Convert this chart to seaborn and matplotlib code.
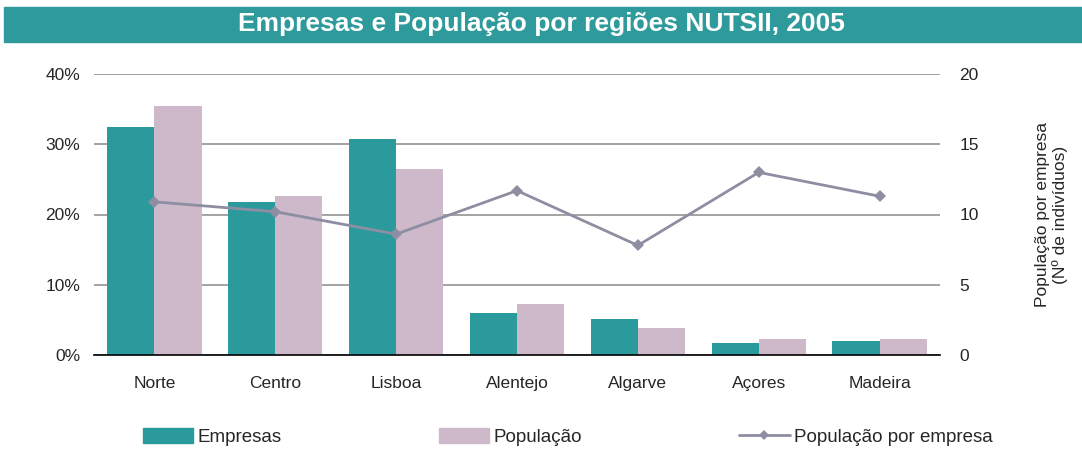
import pandas as pd
import numpy as np
import seaborn as sns
import matplotlib.pyplot as plt
from matplotlib.patches import Rectangle
from matplotlib.lines import Line2D
from matplotlib.ticker import PercentFormatter

# Data
regioes = ['Norte', 'Centro', 'Lisboa', 'Alentejo', 'Algarve', 'Açores', 'Madeira']
empresas = [32.4, 21.8, 30.7, 6.0, 5.1, 1.7, 2.0]
populacao = [35.4, 22.6, 26.5, 7.3, 3.8, 2.3, 2.3]
pop_por_empresa = [10.9, 10.2, 8.6, 11.7, 7.8, 13.0, 11.3]

teal = '#2A9A9C'
pink = '#CDB9C9'
grey_line = '#8E8EA3'

df = pd.DataFrame({
    'Região': regioes * 2,
    'Valor': empresas + populacao,
    'Série': ['Empresas'] * len(regioes) + ['População'] * len(regioes),
})

sns.set_style('white')
plt.rcParams['font.family'] = ['Liberation Sans', 'DejaVu Sans']

fig = plt.figure(figsize=(10.82, 4.5), dpi=100)
ax = fig.add_axes([94 / 1082, 95 / 450, 846 / 1082, 281 / 450])

sns.barplot(data=df, x='Região', y='Valor', hue='Série', order=regioes,
            palette=[teal, pink], width=0.78, gap=0, ax=ax, legend=False,
            saturation=1, linewidth=0, zorder=2)

ax.set_ylim(0, 40)
ax.set_xlim(-0.5, len(regioes) - 0.5)
ax.set_yticks([0, 10, 20, 30, 40])
ax.yaxis.set_major_formatter(PercentFormatter(decimals=0))
ax.yaxis.grid(True, color='#8A8A8A', linewidth=1.1, zorder=0)
ax.set_axisbelow(True)
ax.set_xlabel('')
ax.set_ylabel('')
for s in ['top', 'left', 'right']:
    ax.spines[s].set_visible(False)
ax.spines['bottom'].set_color('black')
ax.spines['bottom'].set_linewidth(1.2)
ax.set_xticks(range(len(regioes)))
ax.set_xticklabels(regioes)
ax.set_xticks(np.arange(-0.5, len(regioes), 1), minor=True)
ax.tick_params(axis='x', which='major', length=0, pad=15, labelsize=12.5)
ax.tick_params(axis='x', which='minor', length=6, width=1.2, color='black', direction='out')
ax.tick_params(axis='y', length=0, pad=10, labelsize=12.5)

ax2 = ax.twinx()
sns.lineplot(x=list(range(len(regioes))), y=pop_por_empresa, ax=ax2, color=grey_line,
             linewidth=2, marker='D', markersize=6, markeredgewidth=0, zorder=3)
ax2.set_ylim(0, 20)
ax2.set_yticks([0, 5, 10, 15, 20])
for s in ax2.spines.values():
    s.set_visible(False)
ax2.tick_params(axis='y', length=0, pad=14, labelsize=12.5)
ax2.set_ylabel('População por empresa\n(Nº de indivíduos)', fontsize=12.5, labelpad=40)

# Title banner
fig.patches.append(Rectangle((4 / 1082, 408 / 450), 1 - 4 / 1082, 35 / 450,
                             transform=fig.transFigure, color='#2E9A9B', zorder=0))
fig.text(0.5, 425.5 / 450, 'Empresas e População por regiões NUTSII, 2005',
         ha='center', va='center', color='white', fontsize=19, fontweight='bold')

handles = [
    Rectangle((0, 0), 1, 1, color=teal),
    Rectangle((0, 0), 1, 1, color=pink),
    Line2D([0], [0], color=grey_line, linewidth=2, marker='D', markersize=5,
           markeredgewidth=0),
]
fig.legend(handles, ['Empresas', 'População', 'População por empresa'],
           loc='center', bbox_to_anchor=(0.5245, 13 / 450), ncol=3, frameon=False,
           fontsize=13.5, handlelength=2.7, handleheight=0.8, handletextpad=0.2,
           columnspacing=8.4)

fig.savefig('out.png', dpi=100)
